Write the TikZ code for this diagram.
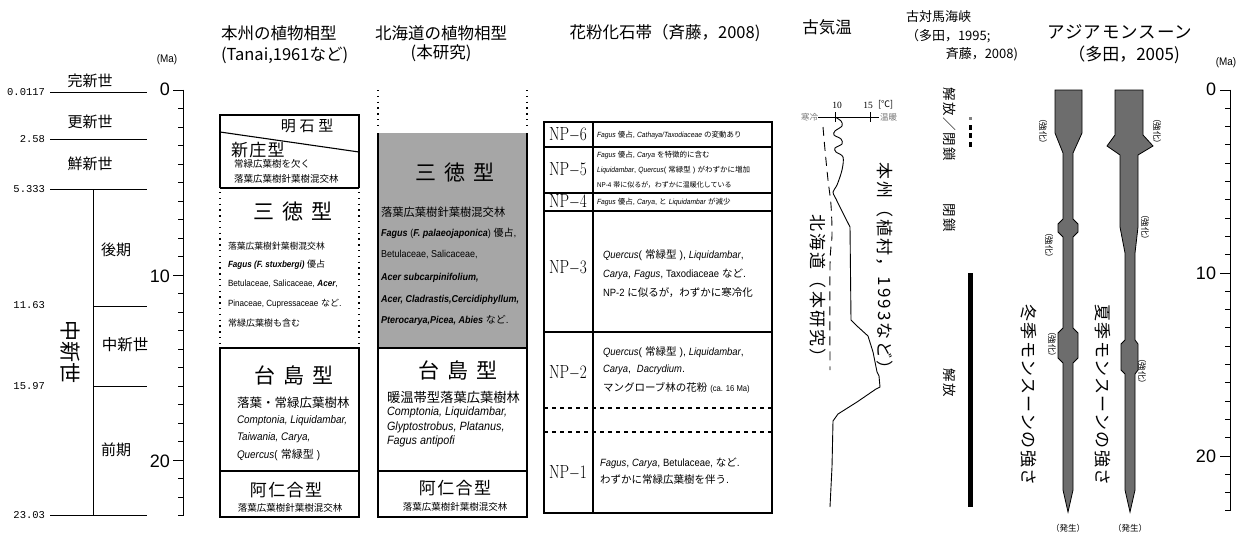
\documentclass[tikz,border=0pt]{standalone}
\usepackage{fontspec}
\setmainfont{Liberation Sans}
\newfontfamily\jp{Noto Sans CJK JP}
\newfontfamily\nar[FakeStretch=0.9]{Liberation Sans}
\newfontfamily\mono{Liberation Mono}
\newfontfamily\ser{Liberation Serif}
\newfontfamily\lmr{Latin Modern Roman}
\newcommand\fsz[1]{\fontsize{#1}{#1}\selectfont}
\newcommand\jt[1]{{\jp\mdseries\upshape #1}}
\newcommand\myit[1]{{\nar\itshape #1}}
\newcommand\mybi[1]{{\nar\bfseries\itshape #1}}
\newcommand\mynr[1]{{\nar #1}}
\newcommand\lsp[1]{\addfontfeature{LetterSpace=#1}}
\definecolor{boxgray}{HTML}{A6A6A6}
\definecolor{mons}{HTML}{6D6D6D}
\definecolor{labgray}{HTML}{777777}
\begin{document}
\begin{tikzpicture}[x=1pt,y=-1pt,
  every node/.style={inner sep=0pt,outer sep=0pt},
  frame/.style={line width=1.1pt},
  dotv/.style={line width=1.4pt, dash pattern=on 1.4pt off 4.4pt},
  tick/.style={line width=1pt},
  lw/.style={anchor=west},
  vtx/.style={rotate=-90}
]
\useasboundingbox (0,0) rectangle (1247,535);

% ---------------- Left: epochs ----------------
\node (ma1) at (167,60) {\fsz{11}\mynr{(Ma)}};
\draw[tick] (50,92) -- (147,92);
\draw[tick] (50,139) -- (147,139);
\draw[tick] (50,189) -- (147,189);
\draw[tick] (93,306) -- (147,306);
\draw[tick] (93,386) -- (147,386);
\draw[tick] (50,515) -- (147,515);
\draw[tick] (93,189) -- (93,515);
\node[anchor=east] (n1) at (45,92) {\fsz{10.5}\mono 0.0117};
\node[anchor=east] (n2) at (45,139) {\fsz{10.5}\mono 2.58};
\node[anchor=east] (n3) at (45,189) {\fsz{10.5}\mono 5.333};
\node[anchor=east] (n4) at (45,305) {\fsz{10.5}\mono 11.63};
\node[anchor=east] (n5) at (45,386) {\fsz{10.5}\mono 15.97};
\node[anchor=east] (n6) at (45,515) {\fsz{10.5}\mono 23.03};
\node (e1) at (90,81) {\fsz{15}\jp 完新世};
\node (e2) at (90,122) {\fsz{15}\jp 更新世};
\node (e3) at (90,164) {\fsz{15}\jp 鮮新世};
\node (e4) at (116,250) {\fsz{15}\jp 後期};
\node (e5) at (125,345) {\fsz{15.5}\jp 中新世};
\node (e6) at (116,450) {\fsz{15}\jp 前期};
\node[vtx] (e7) at (70,352) {\fsz{21}\jp 中新世};
% left axis
\draw[tick] (183,89.5) -- (183,515.5);
\foreach \k in {0,...,23} {\draw[tick] (178,{90+18.5*\k}) -- (183,{90+18.5*\k});}
\foreach \k in {0,10,20} {\draw[tick] (173,{90+18.5*\k}) -- (183,{90+18.5*\k});}
\node[anchor=east] (a0) at (170,89) {\fsz{18}0};
\node[anchor=east] (a10) at (170,276) {\fsz{18}10};
\node[anchor=east] (a20) at (170,461) {\fsz{18}20};

% ---------------- Column 2: Honshu ----------------
\node[lw] (t2a) at (221,33) {\fsz{16.5}\jp 本州の植物相型};
\node[lw] (t2b) at (221,55) {\fsz{16.5}\jp (Tanai,1961など)};
\draw[frame] (220,188) -- (220,115) -- (359,115) -- (359,188);
\draw[frame] (220,132) -- (359,152);
\draw[frame] (220,188) -- (359,188);
\draw[dotv] (220,192) -- (220,348);
\draw[dotv] (359,192) -- (359,348);
\draw[frame] (220,348) rectangle (359,517);
\draw[frame] (220,471) -- (359,471);
\node (akashi) at (307,126) {\fsz{15}\jp\lsp{25}明石型};
\node[lw] (shinjo) at (231,150) {\fsz{17}\jp\lsp{8}新庄型};
\node[lw] (sj1) at (234,164) {\fsz{9.5}\jp 常緑広葉樹を欠く};
\node[lw] (sj2) at (234,179) {\fsz{9.5}\jp 落葉広葉樹針葉樹混交林};
\node (santoku2) at (293,212) {\fsz{21}\jp\lsp{40}三徳型};
\node[lw] (st1) at (228,246) {\fsz{8.8}\jp 落葉広葉樹針葉樹混交林};
\node[lw] (st2) at (228,265) {\fsz{9}\mybi{Fagus (F. stuxbergi)} \jt{優占}};
\node[lw] (st3) at (228,284) {\fsz{9}\mynr{Betulaceae, Salicaceae,} \mybi{Acer},};
\node[lw] (st4) at (228,304) {\fsz{9}\mynr{Pinaceae, Cupressaceae} \jt{など}.};
\node[lw] (st5) at (228,323) {\fsz{9}\jp 常緑広葉樹も含む};
\node (daijima2) at (294,375) {\fsz{21}\jp\lsp{40}台島型};
\node[lw] (dj1) at (237,403) {\fsz{12.5}\jp 落葉・常緑広葉樹林};
\node[lw] (dj2) at (237,421) {\fsz{11}\myit{Comptonia, Liquidambar,}};
\node[lw] (dj3) at (237,438) {\fsz{11}\myit{Taiwania, Carya,}};
\node[lw] (dj4) at (237,455) {\fsz{11}\myit{Quercus}\mynr{(} \jt{常緑型} \mynr{)}};
\node (aniai2) at (286,490) {\fsz{17}\jp\lsp{8}阿仁合型};
\node (an2) at (290,508) {\fsz{9.5}\jp 落葉広葉樹針葉樹混交林};

% ---------------- Column 3: Hokkaido ----------------
\node (t3a) at (441,33) {\fsz{16.5}\jp 北海道の植物相型};
\node (t3b) at (441,53) {\fsz{16.5}\jp (本研究)};
\fill[boxgray] (378,133) rectangle (527,348);
\draw[dotv] (378,90) -- (378,128);
\draw[dotv] (527,90) -- (527,128);
\draw[frame] (378,133) -- (378,517) -- (527,517) -- (527,133);
\draw[frame] (378,348) -- (527,348);
\draw[frame] (378,471) -- (527,471);
\node (santoku3) at (455,173) {\fsz{21}\jp\lsp{40}三徳型};
\node[lw] (h1) at (381,212) {\fsz{11.3}\jp 落葉広葉樹針葉樹混交林};
\node[lw] (h2) at (381,233) {\fsz{10}\mybi{Fagus} \mynr{(}\mybi{F. palaeojaponica}\mynr{)} \jt{優占},};
\node[lw] (h3) at (381,255) {\fsz{10}\mynr{Betulaceae, Salicaceae,}};
\node[lw] (h4) at (381,278) {\fsz{10}\mybi{Acer subcarpinifolium,}};
\node[lw] (h5) at (381,300) {\fsz{10}\mybi{Acer, Cladrastis,Cercidiphyllum,}};
\node[lw] (h6) at (381,320) {\fsz{10}\mybi{Pterocarya,Picea, Abies} \jt{など}.};
\node (daijima3) at (458,370) {\fsz{21}\jp\lsp{40}台島型};
\node[lw] (d1) at (387,397) {\fsz{13.3}\jp 暖温帯型落葉広葉樹林};
\node[lw] (d2) at (387,412) {\fsz{12}\myit{Comptonia, Liquidambar,}};
\node[lw] (d3) at (387,427) {\fsz{12}\myit{Glyptostrobus, Platanus,}};
\node[lw] (d4) at (387,441) {\fsz{12}\myit{Fagus antipofi}};
\node (aniai3) at (455,488) {\fsz{17}\jp\lsp{8}阿仁合型};
\node (an3) at (455,507) {\fsz{9.5}\jp 落葉広葉樹針葉樹混交林};

% ---------------- Column 4: pollen zones ----------------
\node (t4) at (665,33) {\fsz{16.5}\jp 花粉化石帯（斉藤，2008)};
\draw[line width=1.3pt] (544,122) rectangle (772,513);
\draw[frame] (593,122) -- (593,513);
\foreach \yy in {147,193,211,332} {\draw[line width=1.3pt] (544,\yy) -- (772,\yy);}
\foreach \yy in {408,432} {\draw[line width=1.1pt, dash pattern=on 4pt off 4pt] (544,\yy) -- (772,\yy);}
\node (np6) at (568,135) {\scalebox{0.8}[1]{\fsz{19}\lmr NP$-$6}};
\node (np5) at (568,170) {\scalebox{0.8}[1]{\fsz{19}\lmr NP$-$5}};
\node (np4) at (568,202) {\scalebox{0.8}[1]{\fsz{19}\lmr NP$-$4}};
\node (np3) at (568,268) {\scalebox{0.8}[1]{\fsz{19}\lmr NP$-$3}};
\node (np2) at (568,373) {\scalebox{0.8}[1]{\fsz{19}\lmr NP$-$2}};
\node (np1) at (568,473) {\scalebox{0.8}[1]{\fsz{19}\lmr NP$-$1}};
\node[lw] (p6) at (597,135) {\fsz{7.5}\myit{Fagus} \jt{優占}, \myit{Cathaya/Taxodiaceae} \jt{の変動あり}};
\node[lw] (p5a) at (597,155) {\fsz{7.5}\myit{Fagus} \jt{優占}, \myit{Carya} \jt{を特徴的に含む}};
\node[lw] (p5b) at (597,170) {\fsz{7.5}\myit{Liquidambar}, \myit{Quercus}( \jt{常緑型} ) \jt{がわずかに増加}};
\node[lw] (p5c) at (597,185) {\fsz{7}\mynr{NP-4} \jt{帯に似るが，わずかに温暖化している}};
\node[lw] (p4) at (597,202) {\fsz{7.5}\myit{Fagus} \jt{優占}, \myit{Carya}, \jt{と} \myit{Liquidambar} \jt{が減少}};
\node[lw] (p3a) at (603,255) {\fsz{10.5}\myit{Quercus}( \jt{常緑型} ), \myit{Liquidambar},};
\node[lw] (p3b) at (603,274) {\fsz{10.5}\myit{Carya}, \myit{Fagus}, \mynr{Taxodiaceae} \jt{など}.};
\node[lw] (p3c) at (603,293) {\fsz{10.5}\mynr{NP-2} \jt{に似るが，わずかに寒冷化}};
\node[lw] (p2a) at (603,352) {\fsz{10.5}\myit{Quercus}( \jt{常緑型} ), \myit{Liquidambar},};
\node[lw] (p2b) at (603,370) {\fsz{10.5}\myit{Carya},\ \ \myit{Dacrydium}.};
\node[lw] (p2c) at (603,388) {\fsz{10.5}\jt{マングローブ林の花粉} \fsz{8.5}\mynr{(ca. 16 Ma)}};
\node[lw] (p1a) at (600,463) {\fsz{10.5}\myit{Fagus}, \myit{Carya}, \mynr{Betulaceae,} \jt{など}.};
\node[lw] (p1b) at (600,480) {\fsz{10.5}\jt{わずかに常緑広葉樹を伴う}.};

% ---------------- Column 5: paleotemperature ----------------
\node (t5) at (827,27) {\fsz{16.5}\jp 古気温};
\draw[line width=0.9pt] (818,117) -- (879,117);
\draw[line width=0.9pt] (835,112) -- (835,122);
\draw[line width=0.9pt] (870,112) -- (870,122);
\node (c10) at (837,105) {\fsz{9.5}\ser 10};
\node (c15) at (868,105) {\fsz{9.5}\ser 15};
\node[lw] (cdeg) at (878,105) {\fsz{9}\jp [℃]};
\node[anchor=east] (cold) at (818,117) {\fsz{8.5}\jp\color{labgray}寒冷};
\node[lw] (warm) at (880,117) {\fsz{8.5}\jp\color{labgray}温暖};
\draw[line width=0.9pt] plot[smooth, tension=0.55] coordinates {(835,117) (841,121) (842,126) (835,131) (834,135) (841,139) (842,144) (835,148) (836,152) (843,157) (842,170) (837,185) (833,192) (836,199) (850,227)}
  -- (851,320) -- (857,326) -- (868,336) -- (873,352) -- (877,372) -- (879,376) -- (880,387) -- (876,389) -- (857,402) -- (838,414) -- (833,421) -- (832,467) -- (830,507);
\draw[line width=0.9pt, dash pattern=on 9pt off 6pt] plot[smooth] coordinates {(823,127) (825,150) (828,180) (831,205) (832,235) (830,265) (830,370)};
\node[vtx] (hon) at (885,270) {\fsz{17}\jp\lsp{12}本州（植村，1993など）};
\node[vtx] (hok) at (818,290) {\fsz{17}\jp\lsp{12}北海道（本研究）};

% ---------------- Column 6: Tsushima strait ----------------
\node[lw] (t6a) at (906,17) {\fsz{13}\jp 古対馬海峡};
\node[lw] (t6b) at (906,36) {\fsz{13}\jp （多田，1995;};
\node[anchor=east] (t6c) at (1018,54) {\fsz{13}\jp 斉藤，2008)};
\node[vtx] (s1) at (950,124) {\fsz{13.5}\jp\lsp{12}解放／閉鎖};
\node[vtx] (s2) at (950,218) {\fsz{13.5}\jp\lsp{12}閉鎖};
\node[vtx] (s3) at (950,383) {\fsz{13.5}\jp\lsp{12}解放};
\draw[line width=3pt, gray] (970,117) -- (970,120);
\foreach \yy in {125,133,142} {\draw[line width=3pt] (970,\yy) -- (970,{\yy+5});}
\draw[line width=5pt] (970,273) -- (970,507);

% ---------------- Column 7: Asian monsoon ----------------
\node (t7a) at (1120,32) {\fsz{17.5}\jp\lsp{5}アジアモンスーン};
\node (t7b) at (1124,55) {\fsz{17}\jp （多田，2005)};
\filldraw[fill=mons, draw=black, line width=0.8pt]
  (1055,90) -- (1082,90) -- (1082,133) -- (1073,153) -- (1073,219) -- (1078,224) -- (1078,232) -- (1073,237)
  -- (1073,328) -- (1078,333) -- (1078,358) -- (1073,363) -- (1073,490) -- (1068,512) -- (1063,490)
  -- (1063,363) -- (1058,358) -- (1058,333) -- (1063,328) -- (1063,237) -- (1058,232) -- (1058,224)
  -- (1063,219) -- (1063,153) -- (1055,133) -- cycle;
\filldraw[fill=mons, draw=black, line width=0.8pt]
  (1115,90) -- (1143,90) -- (1143,135) -- (1153,146) -- (1138,155) -- (1138,227) -- (1135,253)
  -- (1135,340) -- (1138,344) -- (1138,370) -- (1135,374) -- (1135,490) -- (1130,512) -- (1125,490)
  -- (1125,374) -- (1121,370) -- (1121,344) -- (1125,340) -- (1125,253) -- (1120,227) -- (1120,155)
  -- (1107,146) -- (1115,135) -- cycle;
\node[vtx] (w1) at (1043,131) {\fsz{8.5}\jp （強化）};
\node[vtx] (w2) at (1049,245) {\fsz{8.5}\jp （強化）};
\node[vtx] (w3) at (1052,344) {\fsz{8.5}\jp （強化）};
\node[vtx] (m1) at (1157,131) {\fsz{8.5}\jp （強化）};
\node[vtx] (m2) at (1145,227) {\fsz{8.5}\jp （強化）};
\node[vtx] (m3) at (1142,371) {\fsz{8.5}\jp （強化）};
\node (g1) at (1068,528) {\fsz{8.5}\jp （発生）};
\node (g2) at (1130,528) {\fsz{8.5}\jp （発生）};
\node[vtx] (wm) at (1029,395) {\fsz{17}\jp\lsp{8}冬季モンスーンの強さ};
\node[vtx] (sm) at (1103,395) {\fsz{17}\jp\lsp{8}夏季モンスーンの強さ};

% right axis
\node (ma2) at (1226,63) {\fsz{11}\mynr{(Ma)}};
\draw[tick] (1230,89.5) -- (1230,511);
\foreach \k in {0,...,23} {\draw[tick] (1225,{90+18.3*\k}) -- (1230,{90+18.3*\k});}
\foreach \k in {0,10,20} {\draw[tick] (1220,{90+18.3*\k}) -- (1230,{90+18.3*\k});}
\node[anchor=east] (b0) at (1216,89) {\fsz{18}0};
\node[anchor=east] (b10) at (1216,273) {\fsz{18}10};
\node[anchor=east] (b20) at (1216,456) {\fsz{18}20};
\end{tikzpicture}
\end{document}
